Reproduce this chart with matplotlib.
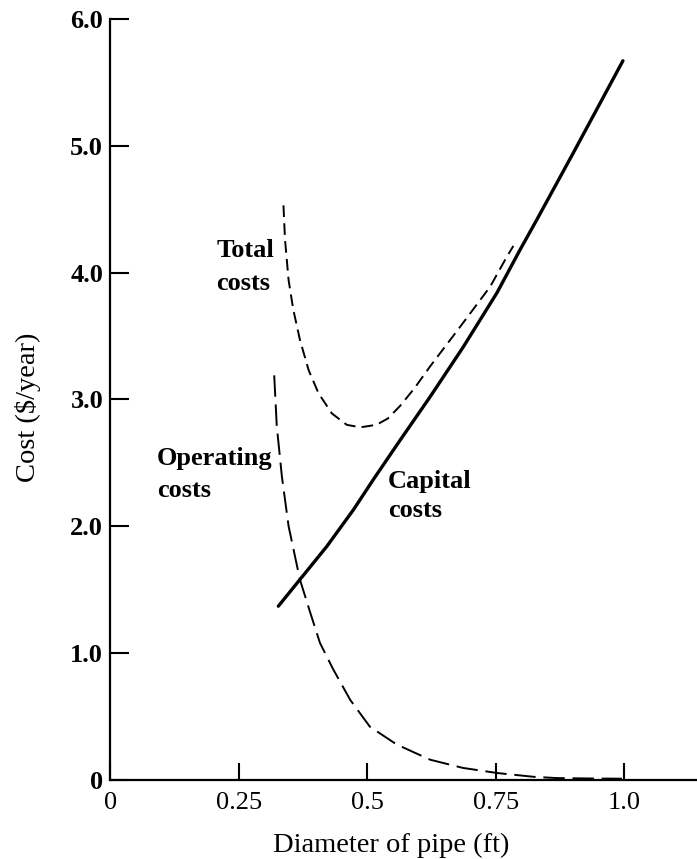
import numpy as np
import matplotlib.pyplot as plt

# values (diameter in ft, cost in $/year)
capital_d = [0.327, 0.369, 0.421, 0.473, 0.512, 0.564, 0.622, 0.686, 0.752, 0.797, 0.830, 0.90, 0.997]
capital_c = [1.37, 1.58, 1.84, 2.13, 2.37, 2.68, 3.02, 3.41, 3.84, 4.18, 4.42, 4.94, 5.67]

operating_d = [0.319, 0.324, 0.334, 0.347, 0.369, 0.389, 0.408, 0.434, 0.467, 0.505, 0.557,
               0.622, 0.686, 0.752, 0.823, 0.868, 0.93, 0.995]
operating_c = [3.19, 2.79, 2.39, 2.00, 1.58, 1.32, 1.08, 0.87, 0.63, 0.42, 0.28,
               0.16, 0.095, 0.055, 0.025, 0.015, 0.012, 0.01]

total_d = [0.337, 0.340, 0.347, 0.356, 0.369, 0.386, 0.405, 0.431, 0.460, 0.486, 0.518,
           0.540, 0.564, 0.592, 0.622, 0.680, 0.739, 0.772, 0.784]
total_c = [4.53, 4.26, 3.94, 3.71, 3.47, 3.23, 3.05, 2.89, 2.80, 2.78, 2.80,
           2.85, 2.95, 3.09, 3.26, 3.57, 3.89, 4.13, 4.21]

xticks = [0, 0.25, 0.5, 0.75, 1.0]
xtick_labels = ['0', '0.25', '0.5', '0.75', '1.0']
yticks = [0, 1, 2, 3, 4, 5, 6]
ytick_labels = ['0', '1.0', '2.0', '3.0', '4.0', '5.0', '6.0']

plt.rcParams['font.family'] = 'Liberation Serif'

fig = plt.figure(figsize=(6.97, 8.59), dpi=100)
ax = fig.add_axes([0.158, 0.092, 0.842, 0.886])

ax.plot(capital_d, capital_c, color='black', lw=2.4, solid_capstyle='round', solid_joinstyle='round')
ax.plot(operating_d, operating_c, color='black', lw=1.4, dashes=(11, 4))
ax.plot(total_d, total_c, color='black', lw=1.4, dashes=(6, 3.2))

ax.set_xlim(0, 1.141)
ax.set_ylim(0, 6)
for s in ['top', 'right']:
  ax.spines[s].set_visible(False)
for s in ['left', 'bottom']:
  ax.spines[s].set_linewidth(1.6)

ax.set_xticks(xticks)
ax.set_xticklabels(xtick_labels, fontsize=19)
ax.set_yticks(yticks)
ax.set_yticklabels(ytick_labels, fontsize=19, fontweight='bold')
ax.tick_params(axis='x', direction='in', length=12, width=1.5, pad=9)
ax.tick_params(axis='y', direction='in', length=14, width=1.5, pad=5)

ax.set_xlabel('Diameter of pipe (ft)', fontsize=20.5)
ax.xaxis.set_label_coords(0.479, -0.070)
ax.set_ylabel('Cost ($/year)', fontsize=20.5)
ax.yaxis.set_label_coords(-0.118, 0.49)

# curve labels, one text per line
lab = dict(fontsize=19, fontweight='bold', va='baseline', ha='left')
ax.text(0.206, 4.12, 'Total', **lab)
ax.text(0.206, 3.86, 'costs', **lab)
ax.text(0.091, 2.48, 'Operating', **lab)
ax.text(0.091, 2.23, 'costs', **lab)
ax.text(0.540, 2.30, 'Capital', **lab)
ax.text(0.540, 2.07, 'costs', **lab)

fig.savefig('out.png', dpi=100)
